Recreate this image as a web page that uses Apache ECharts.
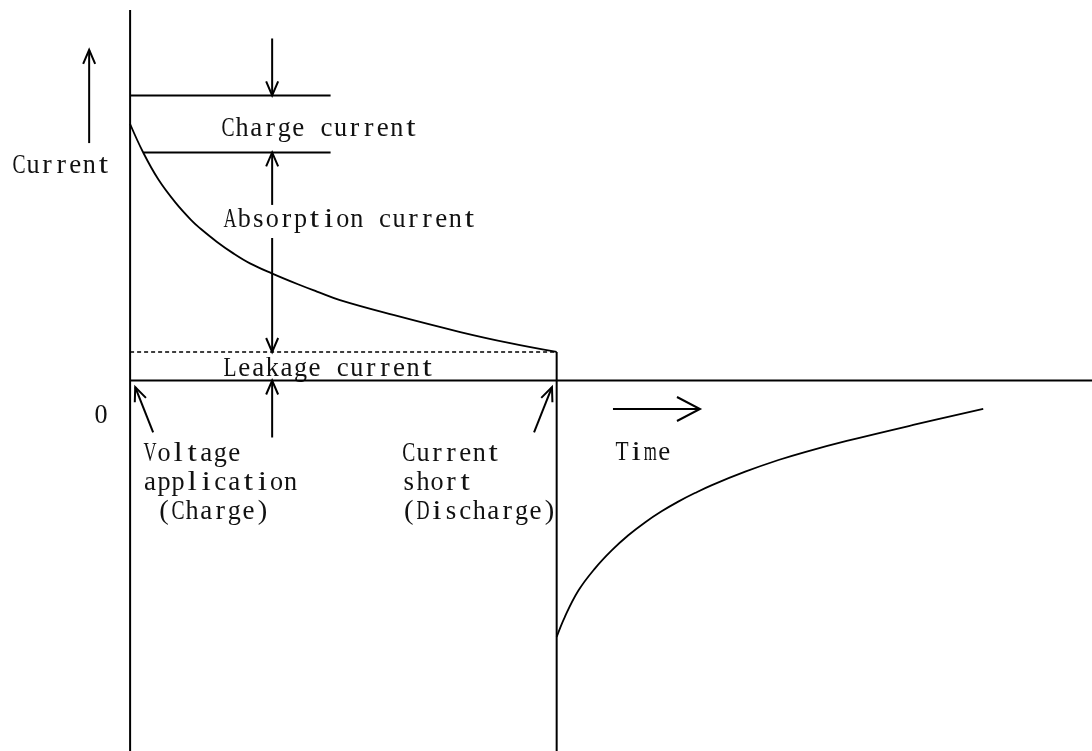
<!DOCTYPE html>
<html>
<head>
<meta charset="utf-8">
<script src="https://cdn.jsdelivr.net/npm/echarts@6/dist/echarts.min.js"></script>
<style>
  html, body { margin: 0; padding: 0; background: #fff; }
  #chart { width: 1092px; height: 751px; }
</style>
</head>
<body>
<div id="chart"></div>
<script>
// charge: current decays from the charge peak down to the leakage level
const chargeTime = [0, 0.31, 0.66, 1.06, 1.45, 1.64, 2.03, 2.42, 2.81, 3.32, 3.98, 4.38, 4.92, 6.17, 7.74, 8.91, 10];
const chargeCurrent = [9, 7.99, 7.06, 6.25, 5.6, 5.34, 4.87, 4.46, 4.11, 3.76, 3.35, 3.12, 2.82, 2.3, 1.7, 1.31, 1];

// discharge after the short: negative current recovering towards zero
const dischargeTime = [10, 10.19, 10.51, 10.9, 11.29, 11.68, 12.07, 12.46, 12.85, 13.24, 13.64, 14.42, 15.2, 15.82, 16.8, 18.36, 20];
const dischargeCurrent = [-9, -8.3, -7.37, -6.59, -5.96, -5.43, -4.98, -4.59, -4.25, -3.95, -3.67, -3.2, -2.79, -2.51, -2.12, -1.56, -1];

// levels / instants of the diagram
const shortTime = 10;
const leakageLevel = 1;
const chargeLevel = 10;
const absorptionLevel = 8;
const markerEnd = 4.7;

// arrows: [fromTime, fromCurrent, toTime, toCurrent]
const arrows = [
  [-0.96, 8.33, -0.96, 11.6],   // current direction
  [3.33, 12, 3.33, chargeLevel],
  [3.33, 6.16, 3.33, absorptionLevel],
  [3.33, 5.0, 3.33, leakageLevel],
  [3.33, -2, 3.33, 0],
  [0.54, -1.82, 0.12, -0.23],   // voltage application
  [9.47, -1.82, 9.89, -0.23]    // current short
];
const timeArrow = [[11.32, -1.0, 13.36, -1.0]];

// text labels
const labelText = ['Current', 'Charge current', 'Absorption current', 'Leakage current', '0',
  'Voltage\napplication\n (Charge)', 'Current\nshort\n(Discharge)', 'Time'];
const labelTime = [-2.77, 2.13, 2.18, 2.18, -0.68, 0.30, 6.37, 11.37];
const labelCurrent = [7.54, 8.82, 5.65, 0.42, -1.23, -3.6, -3.6, -2.54];

const zip = (xs, ys) => xs.map((x, i) => [x, ys[i]]);
const ink = '#000';

// mincho-like half-width text: serif glyphs on a fixed cell
const fontFamily = '"Liberation Serif", "DejaVu Serif", serif';
const fontSize = 27;
const cell = 14.07;
const lineH = 29;
const measureCtx = document.createElement('canvas').getContext('2d');
measureCtx.font = fontSize + 'px ' + fontFamily;

function segment(name, data, width, type) {
  return {
    name: name,
    type: 'line',
    data: data,
    symbol: 'none',
    silent: true,
    lineStyle: { color: ink, width: width || 2, type: type || 'solid' }
  };
}

function arrowSeries(data, headLen, headHalf) {
  return {
    type: 'custom',
    silent: true,
    data: data,
    renderItem: function (params, api) {
      const p1 = api.coord([api.value(0), api.value(1)]);
      const p2 = api.coord([api.value(2), api.value(3)]);
      const dx = p2[0] - p1[0], dy = p2[1] - p1[1];
      const len = Math.sqrt(dx * dx + dy * dy);
      const ux = dx / len, uy = dy / len;
      const bx = p2[0] - ux * headLen, by = p2[1] - uy * headLen;
      return {
        type: 'group',
        children: [
          { type: 'line', shape: { x1: p1[0], y1: p1[1], x2: p2[0], y2: p2[1] },
            style: { stroke: ink, lineWidth: 2 } },
          { type: 'polyline',
            shape: { points: [[bx - uy * headHalf, by + ux * headHalf], p2, [bx + uy * headHalf, by - ux * headHalf]] },
            style: { stroke: ink, lineWidth: 2, fill: 'none' } }
        ]
      };
    }
  };
}

function renderLabel(params, api) {
  const p = api.coord([api.value(0), api.value(1)]);
  const text = labelText[params.dataIndex];
  const lines = text.split('\n');
  const children = [];
  let x0 = p[0];
  if (text === '0') x0 -= cell / 2;
  lines.forEach(function (line, j) {
    const y = p[1] + (j - (lines.length - 1) / 2) * lineH;
    for (let i = 0; i < line.length; i++) {
      const ch = line[i];
      if (ch === ' ') continue;
      const w = measureCtx.measureText(ch).width;
      let sx = 1;
      if (w > cell - 1) sx = (cell - 1) / w;
      else if (w < 9.5) sx = Math.min(1.25, 9.5 / w);
      children.push({
        type: 'text',
        x: x0 + (i + 0.5) * cell,
        y: y,
        scaleX: sx,
        style: {
          text: ch,
          fill: '#111',
          fontFamily: fontFamily,
          fontSize: fontSize,
          align: 'center',
          verticalAlign: 'middle'
        }
      });
    }
  });
  return { type: 'group', children: children };
}

const chart = echarts.init(document.getElementById('chart'));
const option = {
  animation: false,
  backgroundColor: '#fff',
  grid: { left: 0, right: 0, top: 0, bottom: 0 },
  xAxis: { type: 'value', min: -3.05, max: 22.55, show: false },
  yAxis: { type: 'value', min: -13, max: 13.35, show: false },
  series: [
    segment('current axis', [[0, -13], [0, 13]]),
    segment('time axis', [[0, 0], [22.55, 0]]),
    segment('short', [[shortTime, leakageLevel], [shortTime, -13]]),
    segment('charge line', [[0, chargeLevel], [markerEnd, chargeLevel]]),
    segment('absorption line', [[chargeTime[1], absorptionLevel], [markerEnd, absorptionLevel]]),
    segment('leakage', [[0, leakageLevel], [shortTime, leakageLevel]], 1.5, [4, 3]),
    Object.assign(segment('charge', zip(chargeTime, chargeCurrent), 1.8), { smooth: 0.4 }),
    Object.assign(segment('discharge', zip(dischargeTime, dischargeCurrent), 1.8), { smooth: 0.4 }),
    arrowSeries(arrows, 14, 6),
    arrowSeries(timeArrow, 23, 12),
    { type: 'custom', silent: true, data: zip(labelTime, labelCurrent), renderItem: renderLabel }
  ]
};
chart.setOption(option);
window.addEventListener('resize', function () {
  chart.resize();
});
</script>
</body>
</html>
